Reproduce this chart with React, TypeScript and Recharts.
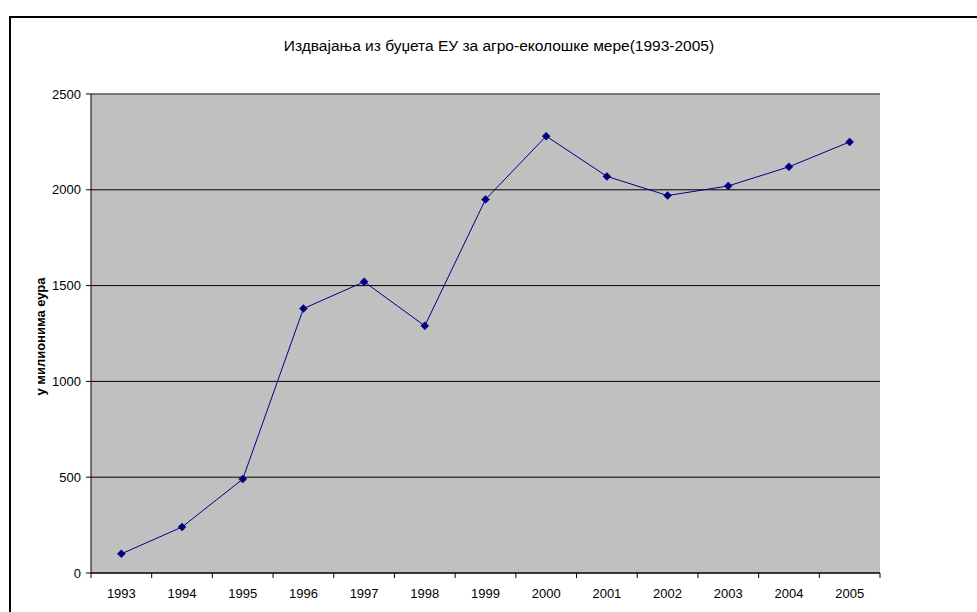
import React from 'react';
import {
  LineChart,
  Line,
  XAxis,
  YAxis,
  CartesianGrid,
  ReferenceLine,
  Label,
} from 'recharts';

const years = ['1993', '1994', '1995', '1996', '1997', '1998', '1999', '2000', '2001', '2002', '2003', '2004', '2005'];
const values = [100, 240, 490, 1380, 1520, 1290, 1950, 2280, 2070, 1970, 2020, 2120, 2250];
const yTicks = [0, 500, 1000, 1500, 2000, 2500];
const boundaryTicks = [0, 1, 2, 3, 4, 5, 6, 7, 8, 9, 10, 11, 12, 13];

const title = 'Издвајања из буџета ЕУ за агро-еколошке мере(1993-2005)';
const yLabel = 'у милионима еура';

const data = years.map((y, i) => ({ year: y, value: values[i], idx: i + 0.5 }));

const FONT = '"Liberation Sans", Arial, sans-serif';

const Diamond = (props: any) => {
  const { cx, cy } = props;
  if (cx == null || cy == null) return null;
  const r = 4;
  return (
    <polygon
      points={`${cx},${cy - r} ${cx + r},${cy} ${cx},${cy + r} ${cx - r},${cy}`}
      fill="#000080"
      stroke="#000080"
      strokeWidth={0.5}
    />
  );
};

const EmptyTick = () => <g />;

export default function App() {
  return (
    <div
      style={{
        position: 'absolute',
        left: 0,
        top: 0,
        width: 977,
        height: 612,
        overflow: 'hidden',
        background: '#fff',
        fontFamily: FONT,
      }}
    >
      <div
        style={{
          position: 'absolute',
          left: 9,
          top: 16,
          width: 1000,
          height: 700,
          borderLeft: '2px solid #000',
          borderTop: '2px solid #000',
        }}
      />
      <div
        style={{
          position: 'absolute',
          left: 499,
          top: 46,
          transform: 'translate(-50%, -50%)',
          whiteSpace: 'nowrap',
          fontSize: 15.5,
          color: '#000',
        }}
      >
        {title}
      </div>
      <div style={{ position: 'absolute', left: 0, top: 0 }}>
        <LineChart
          width={977}
          height={612}
          data={data}
          margin={{ top: 94, right: 97, bottom: 0, left: 0 }}
          style={{ fontFamily: FONT }}
        >
          <CartesianGrid
            xAxisId="a"
            yAxisId="l"
            vertical={false}
            stroke="#000"
            fill="#C0C0C0"
            fillOpacity={1}
          />
          <XAxis
            xAxisId="a"
            type="number"
            dataKey="idx"
            domain={[0, 13]}
            ticks={boundaryTicks}
            interval={0}
            allowDataOverflow
            height={6}
            tickSize={5}
            tickMargin={0}
            tick={<EmptyTick />}
            axisLine={{ stroke: '#000' }}
            tickLine={{ stroke: '#000' }}
          />
          <XAxis
            xAxisId="b"
            dataKey="year"
            type="category"
            scale="band"
            interval={0}
            height={33}
            axisLine={false}
            tickLine={false}
            tickSize={0}
            tickMargin={10}
            tick={{ fill: '#000', fontSize: 13, fontFamily: FONT }}
          />
          <YAxis
            yAxisId="l"
            width={91}
            domain={[0, 2500]}
            ticks={yTicks}
            interval={0}
            tickSize={5}
            tickMargin={5}
            axisLine={{ stroke: '#000' }}
            tickLine={{ stroke: '#000' }}
            tick={{ fill: '#000', fontSize: 13, fontFamily: FONT }}
          >
            <Label
              content={(props: any) => {
                const vb = props.viewBox || {};
                const x = (vb.x || 0) + 45;
                const y = (vb.y || 0) + (vb.height || 0) / 2 + 3;
                return (
                  <text
                    x={x}
                    y={y}
                    transform={`rotate(-90, ${x}, ${y})`}
                    textAnchor="middle"
                    fontSize={13}
                    fontWeight="bold"
                    fontFamily={FONT}
                    fill="#000"
                  >
                    {yLabel}
                  </text>
                );
              }}
            />
          </YAxis>
          <YAxis
            yAxisId="r"
            orientation="right"
            width={0}
            domain={[0, 2500]}
            tick={false}
            tickLine={false}
            axisLine={{ stroke: '#808080' }}
          />
          <ReferenceLine xAxisId="a" yAxisId="l" y={2500} stroke="#808080" />
          <Line
            xAxisId="a"
            yAxisId="l"
            type="linear"
            dataKey="value"
            stroke="#000080"
            strokeWidth={1}
            dot={<Diamond />}
            activeDot={false}
            isAnimationActive={false}
          />
        </LineChart>
      </div>
    </div>
  );
}
